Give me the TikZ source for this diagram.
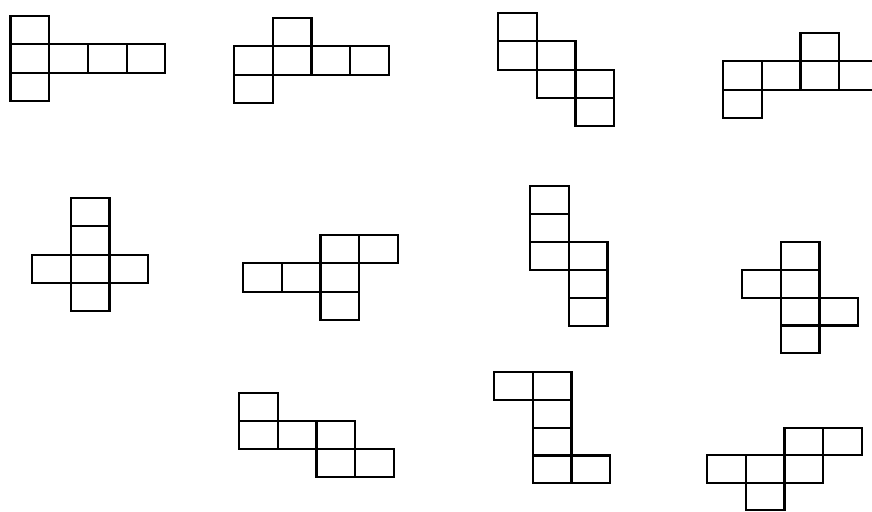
\documentclass[tikz,border=0pt]{standalone}
\usepackage{tikz}

\newcommand{\cellw}{38.7}
\newcommand{\cellh}{28.3}

\begin{document}
\begin{tikzpicture}[x=1pt, y=-1pt, line join=miter,
    cell/.style={draw=black, line width=2.2pt}]
  \useasboundingbox (0,0) rectangle (872,511);

  % Top row of nets
  % net with three stacked squares and an arm of three
  \begin{scope}[shift={(10.5,16)}]
    \foreach \c/\r in {0/0,0/1,0/2,1/1,2/1,3/1}
      \draw[cell] (\c*\cellw,\r*\cellh) rectangle ++(\cellw,\cellh);
  \end{scope}
  % row of four, one up and one down
  \begin{scope}[shift={(234,18)}]
    \foreach \c/\r in {1/0,0/1,1/1,2/1,3/1,0/2}
      \draw[cell] (\c*\cellw,\r*\cellh) rectangle ++(\cellw,\cellh);
  \end{scope}
  % staircase
  \begin{scope}[shift={(498,13)}]
    \foreach \c/\r in {0/0,0/1,1/1,1/2,2/2,2/3}
      \draw[cell] (\c*\cellw,\r*\cellh) rectangle ++(\cellw,\cellh);
  \end{scope}
  % row of four running off the right edge
  \begin{scope}[shift={(723,33)}]
    \foreach \c/\r in {2/0,0/1,1/1,2/1,3/1,0/2}
      \draw[cell] (\c*\cellw,\r*\cellh) rectangle ++(\cellw,\cellh);
  \end{scope}

  % Middle row of nets
  % cross
  \begin{scope}[shift={(32,198)}]
    \foreach \c/\r in {1/0,1/1,0/2,1/2,2/2,1/3}
      \draw[cell] (\c*\cellw,\r*\cellh) rectangle ++(\cellw,\cellh);
  \end{scope}
  \begin{scope}[shift={(243,235)}]
    \foreach \c/\r in {2/0,3/0,0/1,1/1,2/1,2/2}
      \draw[cell] (\c*\cellw,\r*\cellh) rectangle ++(\cellw,\cellh);
  \end{scope}
  % two columns of three
  \begin{scope}[shift={(530,186)}]
    \renewcommand{\cellh}{28}
    \foreach \c/\r in {0/0,0/1,0/2,1/2,1/3,1/4}
      \draw[cell] (\c*\cellw,\r*\cellh) rectangle ++(\cellw,\cellh);
  \end{scope}
  \begin{scope}[shift={(742,242)}]
    \renewcommand{\cellh}{27.8}
    \foreach \c/\r in {1/0,0/1,1/1,1/2,2/2,1/3}
      \draw[cell] (\c*\cellw,\r*\cellh) rectangle ++(\cellw,\cellh);
  \end{scope}

  % Bottom row of nets
  \begin{scope}[shift={(239,393)}]
    \renewcommand{\cellh}{28}
    \foreach \c/\r in {0/0,0/1,1/1,2/1,2/2,3/2}
      \draw[cell] (\c*\cellw,\r*\cellh) rectangle ++(\cellw,\cellh);
  \end{scope}
  \begin{scope}[shift={(494,372)}]
    \renewcommand{\cellh}{27.8}
    \foreach \c/\r in {0/0,1/0,1/1,1/2,1/3,2/3}
      \draw[cell] (\c*\cellw,\r*\cellh) rectangle ++(\cellw,\cellh);
  \end{scope}
  % bottom edge of the last net sits on the page edge
  \begin{scope}[shift={(707,428)}]
    \renewcommand{\cellh}{27.3}
    \foreach \c/\r in {2/0,3/0,0/1,1/1,2/1,1/2}
      \draw[cell] (\c*\cellw,\r*\cellh) rectangle ++(\cellw,\cellh);
  \end{scope}
\end{tikzpicture}
\end{document}
